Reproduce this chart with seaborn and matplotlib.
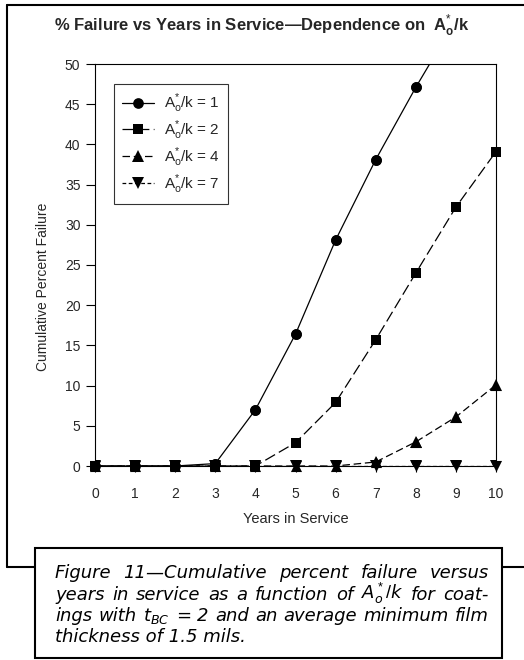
import matplotlib
matplotlib.use("Agg")
import matplotlib.pyplot as plt
import seaborn as sns
from matplotlib.lines import Line2D
from matplotlib.patches import Rectangle

# Years in service and cumulative percent failure for each A*o/k ratio
years = [0, 1, 2, 3, 4, 5, 6, 7, 8, 9, 10]
fail_ratio_1 = [0, 0, 0, 0.3, 7.0, 16.4, 28.1, 38.1, 47.1, 55.5, 62.0]
fail_ratio_2 = [0, 0, 0, 0, 0, 2.9, 7.9, 15.7, 24.0, 32.2, 39.1]
fail_ratio_4 = [0, 0, 0, 0, 0, 0, 0, 0.5, 3.0, 6.1, 10.1]
fail_ratio_7 = [0, 0, 0, 0, 0, 0, 0, 0, 0, 0, 0]
ratios = [1, 2, 4, 7]
x_ticks = [0, 1, 2, 3, 4, 5, 6, 7, 8, 9, 10]
y_ticks = [0, 5, 10, 15, 20, 25, 30, 35, 40, 45, 50]

sns.set_theme(style="white")
plt.rcParams["font.family"] = ["Liberation Sans", "DejaVu Sans"]
plt.rcParams["mathtext.fontset"] = "custom"
plt.rcParams["mathtext.rm"] = "Liberation Sans"
plt.rcParams["mathtext.it"] = "DejaVu Sans:italic"
plt.rcParams["mathtext.bf"] = "Liberation Sans:bold"

W, H = 524, 660
fig = plt.figure(figsize=(W / 100, H / 100), dpi=100)
fig.patch.set_facecolor("white")


def fx(px):
    return px / W


def fy(py):
    return 1 - py / H


ax = fig.add_axes([fx(95), fy(466), fx(496) - fx(95), fy(64) - fy(466)])
ax.set_facecolor("white")

series = [fail_ratio_1, fail_ratio_2, fail_ratio_4, fail_ratio_7]
markers = ["o", "s", "^", "v"]
msizes = [7.7, 6.8, 8.0, 8.0]
styles = ["-", (0, (9, 3.5)), (0, (6, 3)), (0, (3, 2))]

for vals, r, mk, ms, ls in zip(series, ratios, markers, msizes, styles):
    label = r"A$_\mathregular{o}^{*}$/k = " + str(r)
    sns.lineplot(x=years, y=vals, ax=ax, color="black", linewidth=0.9,
                 linestyle=ls, marker=mk, markersize=ms,
                 markeredgewidth=0, markeredgecolor="black", label=label,
                 errorbar=None, sort=False)
    # markers that sit on the frame are drawn unclipped
    px = [x for x, y in zip(years, vals) if y <= 50]
    py = [y for y in vals if y <= 50]
    sns.scatterplot(x=px, y=py, ax=ax, marker=mk, s=ms ** 2, color="black",
                    linewidth=0, clip_on=False, legend=False, zorder=5)

ax.set_xlim(0, 10)
ax.set_ylim(0, 50)
ax.set_xticks(x_ticks)
ax.set_yticks(y_ticks)
ax.tick_params(axis="y", direction="out", length=6.5, width=0.8,
               pad=4, labelsize=10, color="black", left=True)
ax.tick_params(axis="x", direction="out", length=4, width=0.8,
               pad=11, labelsize=10, color="black", bottom=True)
for sp in ax.spines.values():
    sp.set_visible(True)
    sp.set_color("black")
    sp.set_linewidth(0.8)

ax.set_xlabel("Years in Service", fontsize=10.5, labelpad=8)
ax.set_ylabel("Cumulative Percent Failure", fontsize=10)
ax.yaxis.label.set_va("center")
ax.yaxis.set_label_coords((42.7 - 95) / 401, (466 - 287) / 402)

leg = ax.legend(loc="upper left", bbox_to_anchor=((114 - 95) / 401, (466 - 84) / 402),
                borderaxespad=0, frameon=True, fancybox=False, edgecolor="black",
                fontsize=11, handlelength=2.1, handletextpad=0.7,
                labelspacing=0.2, borderpad=0.5, numpoints=1)
leg.get_frame().set_linewidth(0.8)

fig.text(fx(262), fy(25),
         r"% Failure vs Years in Service—Dependence on  A$_\mathbf{o}^{*}$/k",
         ha="center", va="center", fontsize=12, fontweight="bold")

# page frame and caption box
lw = 1.5
for (x0, y0, x1, y1) in [(6.5, 5, 524, 5), (6.5, 5, 6.5, 567),
                         (6.5, 567, 35, 567), (502, 567, 524, 567)]:
    fig.add_artist(Line2D([fx(x0), fx(x1)], [fy(y0), fy(y1)],
                          transform=fig.transFigure, color="black", lw=lw))
fig.add_artist(Rectangle((fx(35), fy(658)), fx(502) - fx(35), fy(548) - fy(658),
                         transform=fig.transFigure, fill=False,
                         edgecolor="black", lw=lw))

caption = [
    "Figure 11—Cumulative percent failure versus",
    r"years in service as a function of $A_o^*/k$ for coat-",
    r"ings with $t_{BC}$ = 2 and an average minimum film",
    "thickness of 1.5 mils.",
]
cap_font = dict(family="DejaVu Sans", style="italic", fontsize=13, color="black")
left, right = 55, 489
baselines = [578, 599.5, 621, 642]
renderer = fig.canvas.get_renderer()
for i, (line, base) in enumerate(zip(caption, baselines)):
    words = line.split(" ")
    if i == len(caption) - 1:
        fig.text(fx(left), fy(base), line, ha="left", va="baseline", **cap_font)
        continue
    texts = [fig.text(0, fy(base), w, ha="left", va="baseline", **cap_font) for w in words]
    widths = [t.get_window_extent(renderer).width for t in texts]
    gap = (right - left - sum(widths)) / (len(words) - 1)
    x = left
    for t, w in zip(texts, widths):
        t.set_x(fx(x))
        x += w + gap

fig.savefig("out.png", dpi=100, facecolor="white")
